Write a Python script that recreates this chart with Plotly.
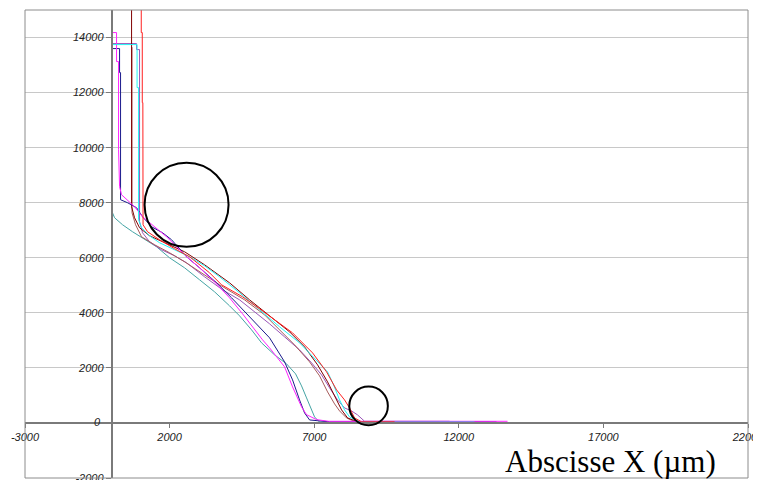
import plotly.graph_objects as go

# ---- data (µm) ----
red_x = [1020, 1020, 1055, 1055, 1075, 1082, 1238, 1653, 2172, 2690, 3036, 3382, 3797, 4523, 5111,
         5630, 6252, 6944, 7428, 7774, 8050, 8223, 8396, 8638, 9779]
red_y = [16500, 14180, 14180, 11635, 11635, 7199, 6945, 6654, 6327, 6036, 5745, 5454, 5018, 4581, 4145,
         3745, 3272, 2545, 1854, 1200, 836, 545, 182, 40, 40]

darkred_x = [685, 685, 788, 961, 1307, 1826, 2517, 3209, 4073, 4765, 5457, 6149, 6667, 7117, 7463,
             7739, 7947, 8154, 8500, 11336]
darkred_y = [16500, 7854, 7454, 7090, 6799, 6545, 6218, 5745, 5090, 4472, 3890, 3309, 2763, 2109, 1491,
             909, 473, 182, 40, 40]

brown_x = [700, 700, 823, 1030, 1480, 1999, 2517, 3036, 3728, 4592, 5284, 5803, 6321, 6840, 7186,
           7463, 7705, 7878, 8119, 8396, 10644]
brown_y = [13650, 7636, 7199, 6763, 6472, 6181, 5854, 5490, 5018, 4472, 3927, 3381, 2836, 2218, 1709,
           1127, 691, 436, 182, 50, 50]

navy_x = [0, 270, 270, 304, 304, 546, 858, 1065, 1376, 1757, 2068, 2587, 3036, 3624, 4143,
          4592, 5007, 5457, 5976, 6252, 6494, 6667, 6840, 7532, 13305]
navy_y = [13599, 13599, 12726, 12726, 8108, 7999, 7817, 7490, 7127, 6908, 6654, 6036, 5636, 5090, 4545,
          4036, 3563, 3091, 2218, 1563, 836, 364, 109, 40, 40]

magenta_x = [0, 166, 166, 235, 235, 270, 339, 512, 788, 1065, 1411, 1895, 2587, 3036, 3555, 4073,
             4523, 4938, 5215, 5457, 5976, 6252, 6563, 6736, 7082, 7500, 9952, 13685]
magenta_y = [14180, 14180, 13126, 13126, 9926, 8581, 8290, 8108, 7854, 7490, 7199, 6763, 6036, 5636, 5127, 4545,
             3963, 3381, 3018, 2727, 2036, 1309, 582, 300, 120, 60, 60, 60]

teal_x = [25, 25, 97, 373, 719, 1065, 1549, 1999, 2517, 3036, 3555, 4073, 4419, 4834, 5180,
          5630, 6045, 6356, 6563, 6736, 6874, 7013, 7186, 9261, 13063]
teal_y = [13744, 7636, 7454, 7199, 6945, 6727, 6399, 5999, 5636, 5200, 4763, 4254, 3890, 3381, 2909,
          2472, 2145, 1782, 1345, 909, 545, 218, 30, 30, 30]

darkteal_x = [25, 25]
darkteal_y = [11817, 7700]

cyan_x = [0, 875, 875, 927, 927, 1030, 1307, 1653, 2172, 2690, 3209, 3728, 4419, 5180, 5803,
          6494, 7013, 7463, 7670, 7878, 8050, 8223, 8569, 12544]
cyan_y = [13744, 13744, 12181, 12181, 7381, 7090, 6799, 6545, 6290, 6036, 5709, 5309, 4727, 4036, 3491,
          2909, 2363, 1854, 1382, 836, 473, 218, 30, 30]

purple_x = [0, 858, 858, 961, 961, 1065, 1307, 1722, 2172, 2587, 3209, 3831, 4419, 4938, 5457,
            5976, 6494, 6909, 7255, 7532, 7808, 8050, 8292, 8500, 8742, 11682]
purple_y = [13780, 13780, 13562, 13562, 7308, 6908, 6581, 6290, 6072, 5818, 5309, 4836, 4472, 4036, 3600,
            3127, 2654, 2182, 1745, 1273, 836, 545, 436, 291, 60, 60]

# circles: centre x, centre y, radius x, radius y
circle_cx = [2587, 8880]
circle_cy = [7926, 618]
circle_rx = [1452, 667]
circle_ry = [1527, 702]

x_ticks = [-3000, 2000, 7000, 12000, 17000, 22000]
x_ticktext = ["-3000", "2000", "7000", "12000", "17000", "22000"]
y_ticks = [-2000, 0, 2000, 4000, 6000, 8000, 10000, 12000, 14000]
y_ticktext = ["-2000", "", "2000", "4000", "6000", "8000", "10000", "12000", "14000"]
y_zero_label = "0"

series = [
    (teal_x, teal_y, "#44A4A4"),
    (darkteal_x, darkteal_y, "#004444"),
    (purple_x, purple_y, "#9A55B8"),
    (brown_x, brown_y, "#A65A5A"),
    (darkred_x, darkred_y, "#800000"),
    (navy_x, navy_y, "#1A1A8C"),
    (magenta_x, magenta_y, "#FF22FF"),
    (cyan_x, cyan_y, "#22F4F4"),
    (red_x, red_y, "#FF2020"),
]

fig = go.Figure()
for xs, ys, col in series:
    fig.add_trace(go.Scatter(x=xs, y=ys, mode="lines", line=dict(color=col, width=1),
                             showlegend=False, hoverinfo="skip"))

for cx, cy, rx, ry in zip(circle_cx, circle_cy, circle_rx, circle_ry):
    fig.add_shape(type="circle", xref="x", yref="y", x0=cx - rx, x1=cx + rx, y0=cy - ry, y1=cy + ry,
                  line=dict(color="black", width=2))

# outer frame
fig.add_shape(type="rect", xref="paper", yref="paper", x0=0, x1=1, y0=0, y1=1,
              line=dict(color="#8C8C8C", width=1), layer="above")

tickfont = dict(family="Liberation Sans, Arial, sans-serif", size=11, color="#222222", style="italic")

x_min, x_max = -3000, 22000
y_min, y_max = -2000, 15000
x_axis_pos = (0 - y_min) / (y_max - y_min)
y_axis_pos = (0 - x_min) / (x_max - x_min)

fig.update_layout(
    width=761, height=480,
    margin=dict(l=17, r=21, t=2, b=10),
    paper_bgcolor="white", plot_bgcolor="white",
    xaxis=dict(range=[x_min, x_max], tickmode="array", tickvals=x_ticks, ticktext=x_ticktext,
               showgrid=False, zeroline=False, showline=True, linecolor="#7A7A7A", linewidth=1.5,
               ticks="outside", ticklen=4, tickcolor="#7A7A7A", tickfont=tickfont,
               automargin=False, ticklabeloverflow="allow",
               anchor="free", position=x_axis_pos),
    yaxis=dict(range=[y_min, y_max], tickmode="array", tickvals=y_ticks, ticktext=y_ticktext,
               showgrid=True, gridcolor="#C8C8C8", gridwidth=1, zeroline=False,
               showline=True, linecolor="#7A7A7A", linewidth=2,
               ticks="outside", ticklen=5, tickcolor="#7A7A7A", tickfont=tickfont,
               automargin=False, ticklabeloverflow="allow",
               anchor="free", position=y_axis_pos),
)

fig.add_annotation(text=y_zero_label, xref="paper", yref="paper", x=y_axis_pos, y=x_axis_pos,
                   xanchor="right", yanchor="middle", xshift=-9, yshift=1, showarrow=False,
                   font=tickfont)

fig.add_annotation(text="Abscisse X (µm)", xref="paper", yref="paper", x=0.9585, y=0.036,
                   xanchor="right", yanchor="middle", showarrow=False,
                   font=dict(family="Liberation Serif, Times New Roman, serif", size=31, color="black"))

fig.write_html("out.html")
